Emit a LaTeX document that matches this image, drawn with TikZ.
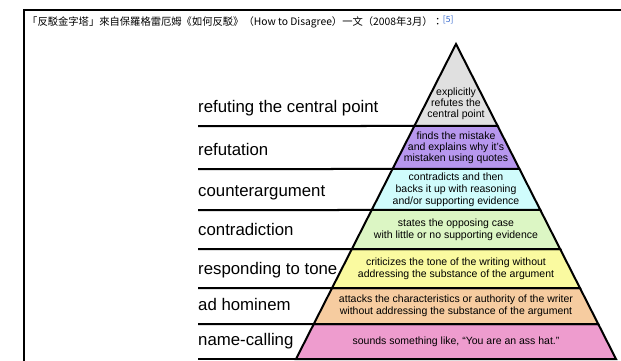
\documentclass[tikz,border=0pt]{standalone}
\usepackage{fontspec}
\setmainfont{Liberation Sans}
\newfontfamily\cjkfont{Noto Sans CJK TC}
\usetikzlibrary{calc}
\definecolor{lvgrey}{RGB}{224,224,224}
\definecolor{lvpurple}{RGB}{183,151,238}
\definecolor{lvcyan}{RGB}{208,252,252}
\definecolor{lvgreen}{RGB}{220,246,196}
\definecolor{lvyellow}{RGB}{250,250,160}
\definecolor{lvpeach}{RGB}{246,204,160}
\definecolor{lvpink}{RGB}{238,156,206}
\definecolor{reflink}{RGB}{51,102,204}
\begin{document}
\begin{tikzpicture}[x=1pt,y=-1pt,
  levelname/.style={anchor=base west,inner sep=0pt,font=\fontsize{16.8}{20}\selectfont},
  levelnote/.style={align=center,inner sep=0pt,font=\fontsize{10.5}{12}\selectfont},
  rule/.style={line width=2pt},
  band/.style={draw=black,line width=2pt,line join=miter}]
\useasboundingbox (0,0) rectangle (621,361);
\begin{scope}
\clip (0,0) rectangle (621,361);
% outer frame
\draw[line width=1.6pt] (24,10) rectangle (660,400);
\end{scope}
% caption
\node[anchor=base west,inner sep=0pt,font=\cjkfont\fontsize{10.3}{12}\selectfont] (caption) at (27,26)
  {「反駁金字塔」來自保羅格雷厄姆《如何反駁》（How to Disagree）一文（2008年3月）：\raisebox{3.5pt}{\textcolor{reflink}{\fontsize{8.5}{10}\selectfont[5]}}};

% pyramid corners
\coordinate (apex) at (456,44);
\coordinate (bl) at (296,359);
\coordinate (br) at (616,359);

% level boundaries (fraction of the way from apex to base)
\foreach \n/\y in {a/126,b/169,c/210,d/249,e/288,f/324,g/359}{
  \pgfmathsetmacro{\t}{(\y-44)/315}
  \coordinate (L\n) at ($(apex)!\t!(bl)$);
  \coordinate (R\n) at ($(apex)!\t!(br)$);
  \coordinate (S\n) at (198,\y);
}

% coloured bands
\filldraw[band,fill=lvpink]   (Lf) -- (Rf) -- (Rg) -- (Lg) -- cycle;
\filldraw[band,fill=lvpeach]  (Le) -- (Re) -- (Rf) -- (Lf) -- cycle;
\filldraw[band,fill=lvyellow] (Ld) -- (Rd) -- (Re) -- (Le) -- cycle;
\filldraw[band,fill=lvgreen]  (Lc) -- (Rc) -- (Rd) -- (Ld) -- cycle;
\filldraw[band,fill=lvcyan]   (Lb) -- (Rb) -- (Rc) -- (Lc) -- cycle;
\filldraw[band,fill=lvpurple] (La) -- (Ra) -- (Rb) -- (Lb) -- cycle;
\filldraw[band,fill=lvgrey]   (apex) -- (Ra) -- (La) -- cycle;

% rules under the level names
\foreach \n in {a,b,c,d,e,f,g}{
  \draw[rule] (S\n) -- (L\n);
}
\draw[rule] (Lg) -- (Rg);

% level names
\node[levelname] (n1) at (198,112) {refuting the central point};
\node[levelname] (n2) at (198,155) {refutation};
\node[levelname] (n3) at (198,196) {counterargument};
\node[levelname] (n4) at (198,235) {contradiction};
\node[levelname] (n5) at (198,274) {responding to tone};
\node[levelname] (n6) at (198,310) {ad hominem};
\node[levelname] (n7) at (198,345) {name-calling};

% descriptions
\node[levelnote,font=\fontsize{10.5}{11}\selectfont] (d1) at (456,104) {explicitly\\refutes the\\central point};
\node[levelnote,font=\fontsize{10.5}{10.8}\selectfont] (d2) at (456,147.5) {finds the mistake\\and explains why it's\\mistaken using quotes};
\node[levelnote] (d3) at (456,189.5) {contradicts and then\\backs it up with reasoning\\and/or supporting evidence};
\node[levelnote] (d4) at (456,229.5) {states the opposing case\\with little or no supporting evidence};
\node[levelnote] (d5) at (456,268.5) {criticizes the tone of the writing without\\addressing the substance of the argument};
\node[levelnote] (d6) at (456,306) {attacks the characteristics or authority of the writer\\without addressing the substance of the argument};
\node[levelnote] (d7) at (456,341.5) {sounds something like, “You are an ass hat.”};
\end{tikzpicture}
\end{document}
